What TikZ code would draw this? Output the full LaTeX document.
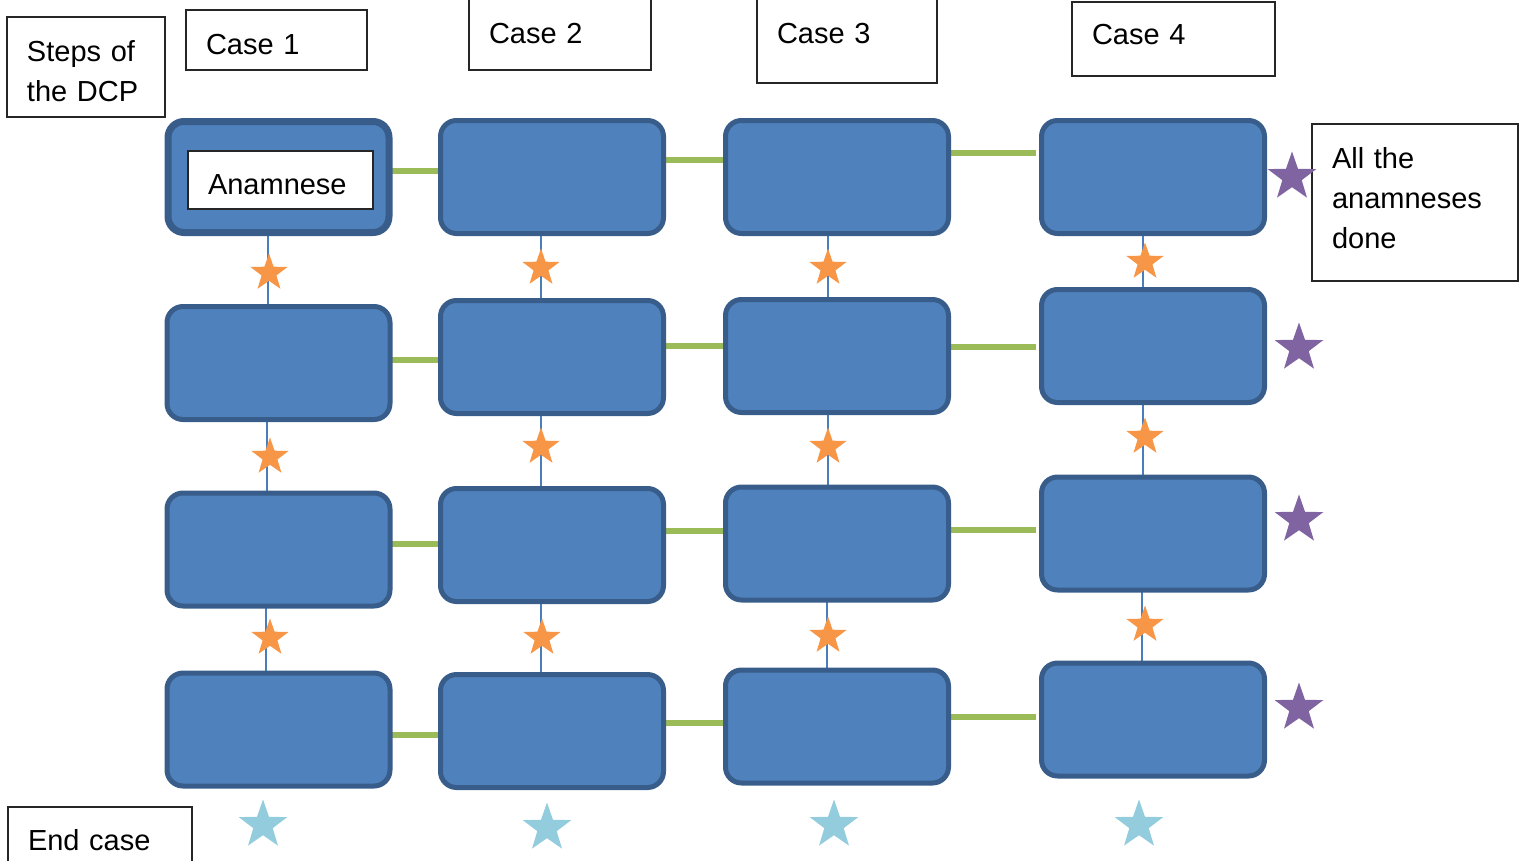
\documentclass[tikz,border=0pt]{standalone}
\usepackage{fontspec}
\setmainfont{Liberation Sans}
\usetikzlibrary{shapes.geometric}
\pgfdeclarelayer{bg}
\pgfsetlayers{bg,main}

\definecolor{stagefill}{HTML}{4F81BD}
\definecolor{stageline}{HTML}{385D8A}
\definecolor{hlink}{HTML}{9BBB59}
\definecolor{vlink}{HTML}{4A7EBB}
\definecolor{orangestar}{HTML}{F79646}
\definecolor{purplestar}{HTML}{8064A2}
\definecolor{bluestar}{HTML}{93CDDD}

\tikzset{
  stage/.style={draw=stageline, fill=stagefill, line width=5pt, rounded corners=16pt,
    minimum width=223pt, minimum height=113pt, inner sep=0pt, outer sep=0pt},
  caption/.style={draw=black!85, fill=white, line width=1.2pt, anchor=north west,
    inner xsep=20pt, inner ysep=0pt, outer sep=0pt, align=left,
    font=\fontsize{29}{40}\selectfont},
  across/.style={draw=hlink, line width=6pt},
  down/.style={draw=vlink, line width=2pt},
  smallstar/.style={star, star points=5, star point ratio=2.5, fill=orangestar,
    minimum size=39pt, inner sep=0pt},
  bigstar/.style={star, star points=5, star point ratio=2.5,
    minimum size=51pt, inner sep=0pt},
}

\begin{document}
\begin{tikzpicture}[x=1pt, y=-1pt]
\useasboundingbox (0,0) rectangle (1523,860);

% stage boxes: rows are steps, columns are cases
\node[stage, line width=7pt, minimum width=221pt, minimum height=111pt] (r1c1) at (278.5,177) {};
\node[stage] (r1c2) at (552,177) {};
\node[stage] (r1c3) at (837,177) {};
\node[stage] (r1c4) at (1153,177) {};
\node[stage] (r2c1) at (278.5,363) {};
\node[stage] (r2c2) at (552,357) {};
\node[stage] (r2c3) at (837,356) {};
\node[stage] (r2c4) at (1153,346) {};
\node[stage] (r3c1) at (278.5,549.5) {};
\node[stage] (r3c2) at (552,545) {};
\node[stage] (r3c3) at (837,543.5) {};
\node[stage] (r3c4) at (1153,533.5) {};
\node[stage] (r4c1) at (278.5,729.5) {};
\node[stage] (r4c2) at (552,731) {};
\node[stage] (r4c3) at (837,726.5) {};
\node[stage] (r4c4) at (1153,719.5) {};

% headings and notes
\node[caption, text width=118pt, text height=44pt, text depth=56pt] (steps) at (7,17) {Steps of\\the DCP};
\node[caption, text width=141pt, text height=44pt, text depth=16pt] (case1) at (186,10) {Case 1};
\node[caption, text width=142pt, text height=48pt, text depth=27pt] (case2) at (469,-5) {Case 2};
\node[caption, text width=140pt, text height=48pt, text depth=40pt] (case3) at (757,-5) {Case 3};
\node[caption, text width=163pt, text height=42pt, text depth=32pt] (case4) at (1072,2) {Case 4};
\node[caption, text width=145pt, text height=43pt, text depth=15pt] (anam) at (188,151) {Anamnese};
\node[caption, text width=166pt, text height=44pt, text depth=113pt] (alldone) at (1312,124) {All the\\anamneses\\done};
\node[caption, text width=144pt, text height=43pt, text depth=40pt] (endcase) at (8,807) {End case};

% links between the boxes, drawn underneath
\begin{pgfonlayer}{bg}
  \draw[across] (r1c1.east |- 0,171) -- (r1c2.west |- 0,171);
  \draw[across] (r1c2.east |- 0,160) -- (r1c3.west |- 0,160);
  \draw[across, shorten >=6pt] (r1c3.east |- 0,153) -- (r1c4.west |- 0,153);
  \draw[across] (r2c1.east |- 0,360) -- (r2c2.west |- 0,360);
  \draw[across] (r2c2.east |- 0,346) -- (r2c3.west |- 0,346);
  \draw[across, shorten >=6pt] (r2c3.east |- 0,347) -- (r2c4.west |- 0,347);
  \draw[across] (r3c1.east |- 0,544) -- (r3c2.west |- 0,544);
  \draw[across] (r3c2.east |- 0,531) -- (r3c3.west |- 0,531);
  \draw[across, shorten >=6pt] (r3c3.east |- 0,530) -- (r3c4.west |- 0,530);
  \draw[across] (r4c1.east |- 0,735) -- (r4c2.west |- 0,735);
  \draw[across] (r4c2.east |- 0,723) -- (r4c3.west |- 0,723);
  \draw[across, shorten >=6pt] (r4c3.east |- 0,717) -- (r4c4.west |- 0,717);

  \draw[down] (r1c1.south -| 268,0) -- (r2c1.north -| 268,0);
  \draw[down] (r2c1.south -| 267,0) -- (r3c1.north -| 267,0);
  \draw[down] (r3c1.south -| 266,0) -- (r4c1.north -| 266,0);
  \draw[down] (r1c2.south -| 541,0) -- (r2c2.north -| 541,0);
  \draw[down] (r2c2.south -| 541,0) -- (r3c2.north -| 541,0);
  \draw[down] (r3c2.south -| 541,0) -- (r4c2.north -| 541,0);
  \draw[down] (r1c3.south -| 828,0) -- (r2c3.north -| 828,0);
  \draw[down] (r2c3.south -| 828,0) -- (r3c3.north -| 828,0);
  \draw[down] (r3c3.south -| 827,0) -- (r4c3.north -| 827,0);
  \draw[down] (r1c4.south -| 1143,0) -- (r2c4.north -| 1143,0);
  \draw[down] (r2c4.south -| 1143,0) -- (r3c4.north -| 1143,0);
  \draw[down] (r3c4.south -| 1142,0) -- (r4c4.north -| 1142,0);
\end{pgfonlayer}

% progress stars between steps
\node[smallstar] (o11) at (269,273) {};
\node[smallstar] (o21) at (270,457) {};
\node[smallstar] (o31) at (270,638) {};
\node[smallstar] (o12) at (541,268) {};
\node[smallstar] (o22) at (541,447) {};
\node[smallstar] (o32) at (542,638) {};
\node[smallstar] (o13) at (828,268) {};
\node[smallstar] (o23) at (828,447) {};
\node[smallstar] (o33) at (828,636) {};
\node[smallstar] (o14) at (1145,262) {};
\node[smallstar] (o24) at (1145,437) {};
\node[smallstar] (o34) at (1145,625) {};

% step completed for all cases
\node[bigstar, fill=purplestar] (p1) at (1292,177) {};
\node[bigstar, fill=purplestar] (p2) at (1299,348) {};
\node[bigstar, fill=purplestar] (p3) at (1299,520) {};
\node[bigstar, fill=purplestar] (p4) at (1299,708) {};

% case finished
\node[bigstar, fill=bluestar] (b1) at (263,825) {};
\node[bigstar, fill=bluestar] (b2) at (547,828) {};
\node[bigstar, fill=bluestar] (b3) at (834,825) {};
\node[bigstar, fill=bluestar] (b4) at (1139,825) {};
\end{tikzpicture}
\end{document}
